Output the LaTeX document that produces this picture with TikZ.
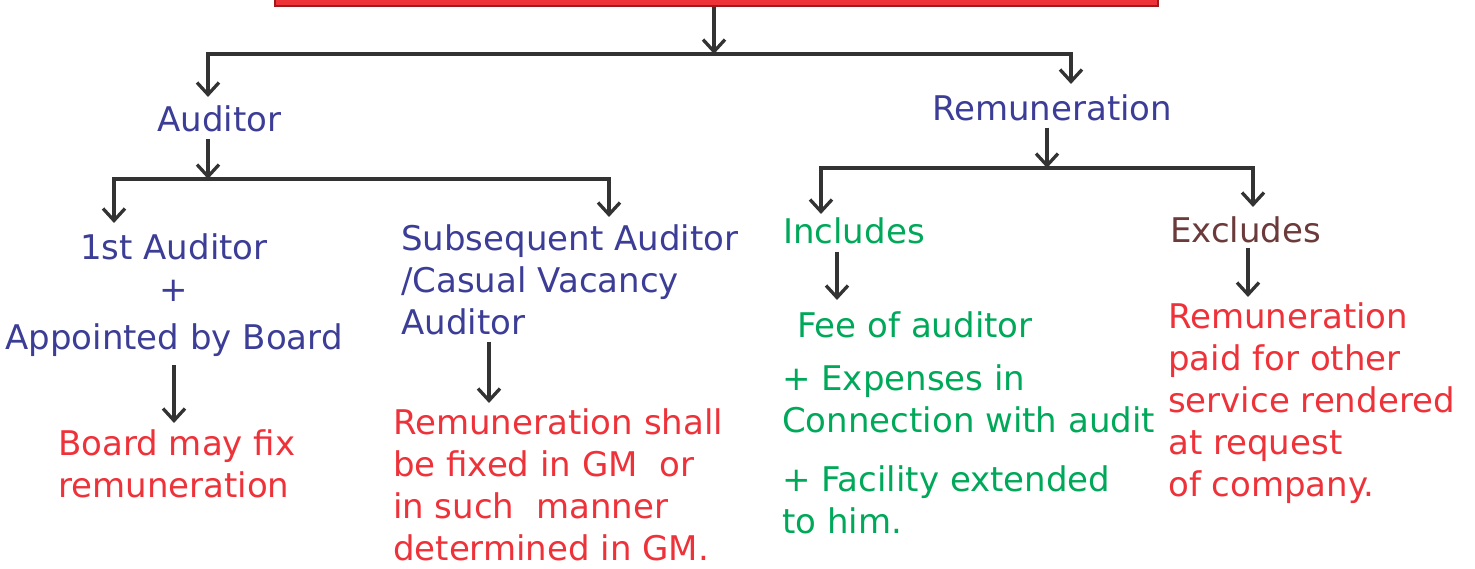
\documentclass[tikz,border=0pt]{standalone}
\usepackage{fontspec}
\setmainfont{DejaVu Sans}
\usepackage{tikz}
\usetikzlibrary{arrows.meta}
\definecolor{inkblue}{HTML}{3C3D96}
\definecolor{inkred}{HTML}{EE3239}
\definecolor{inkgreen}{HTML}{00A859}
\definecolor{inkbrown}{HTML}{6B3A3A}
\definecolor{inkline}{HTML}{333333}
\definecolor{headfill}{HTML}{EE3338}
\definecolor{headline}{HTML}{9B1B1E}
\tikzset{
  txt/.style={font=\fontsize{34}{42}\selectfont, inner sep=0pt, anchor=base west},
  bluetxt/.style={txt, text=inkblue},
  redtxt/.style={txt, text=inkred},
  greentxt/.style={txt, text=inkgreen},
  browntxt/.style={txt, text=inkbrown},
  headbox/.style={draw=headline, line width=1.5pt, fill=headfill, minimum width=883pt, minimum height=52pt, inner sep=0pt},
  link/.style={->, draw=inkline, line width=3.3pt, line join=miter}
}
\begin{document}
\begin{tikzpicture}[x=1pt,y=-1pt,>={Straight Barb[length=12pt,width=22pt]}]
      \useasboundingbox (0,0) rectangle (1475,568);

      \node[headbox] (head) at (716.5,-20) {};
      \node[bluetxt] (aud) at (157,131) {Auditor};
      \node[bluetxt] (rem) at (932,120) {Remuneration};
      \node[greentxt] (incl) at (783,243) {Includes};
      \node[browntxt] (excl) at (1170,242) {Excludes};
      \node[bluetxt, align=center, anchor=base] (first) at (174,349) {1st Auditor\\+\\[6pt]Appointed by Board};
      \node[redtxt, align=left] (brd) at (58,497) {Board may fix\\remuneration};
      \node[bluetxt, align=left] (subs) at (401,334) {Subsequent Auditor\\/Casual Vacancy\\Auditor};
      \node[redtxt, align=left] (gm) at (393,560) {Remuneration shall\\be fixed in GM\ \ or\\in such\ \ manner\\determined in GM.};
      \node[greentxt] (fee) at (797,337) {Fee of auditor};
      \node[greentxt, align=left] (incls) at (782,533) {+ Expenses in\\Connection with audit\\[17pt]+ Facility extended\\to him.};
      \node[redtxt, align=left] (excls) at (1168,496) {Remuneration\\paid for other\\service rendered\\at request\\of company.};

      \coordinate (fork0) at (714,54);
      \coordinate (forkA) at (208,179);
      \coordinate (forkR) at (1047,168);
      \coordinate (dropR) at (1071,0);
      \coordinate (drop1) at (114,0);
      \coordinate (drop2) at (609,0);
      \coordinate (dropI) at (821,0);
      \coordinate (dropE) at (1253,0);
      \coordinate (arrB) at (174,0);
      \coordinate (arrS) at (489,0);
      \coordinate (arrI) at (837,0);
      \coordinate (arrE) at (1248,0);

      \draw[link] (head.south -| fork0) -- (fork0);
      \draw[link, shorten >=8pt] (fork0) -| (aud.north -| forkA);
      \draw[link, shorten >=10pt] (fork0) -| (rem.north -| dropR);
      \draw[link, shorten <=7pt] (aud.south -| forkA) -- (forkA);
      \draw[link, shorten <=7pt] (rem.south -| forkR) -- (forkR);
      \draw[link, shorten >=10pt] (forkA) -| (first.north -| drop1);
      \draw[link, shorten >=7pt] (forkA) -| (subs.north -| drop2);
      \draw[link, shorten >=3pt] (forkR) -| (incl.north -| dropI);
      \draw[link, shorten >=9pt] (forkR) -| (excl.north -| dropE);
      \draw[link, shorten <=9pt, shorten >=6pt] (first.south -| arrB) -- (brd.north -| arrB);
      \draw[link, shorten <=7pt, shorten >=5pt] (subs.south -| arrS) -- (gm.north -| arrS);
      \draw[link, shorten <=8pt, shorten >=11pt] (incl.south -| arrI) -- (fee.north -| arrI);
      \draw[link, shorten <=5pt, shorten >=5pt] (excl.south -| arrE) -- (excls.north -| arrE);
\end{tikzpicture}
\end{document}
